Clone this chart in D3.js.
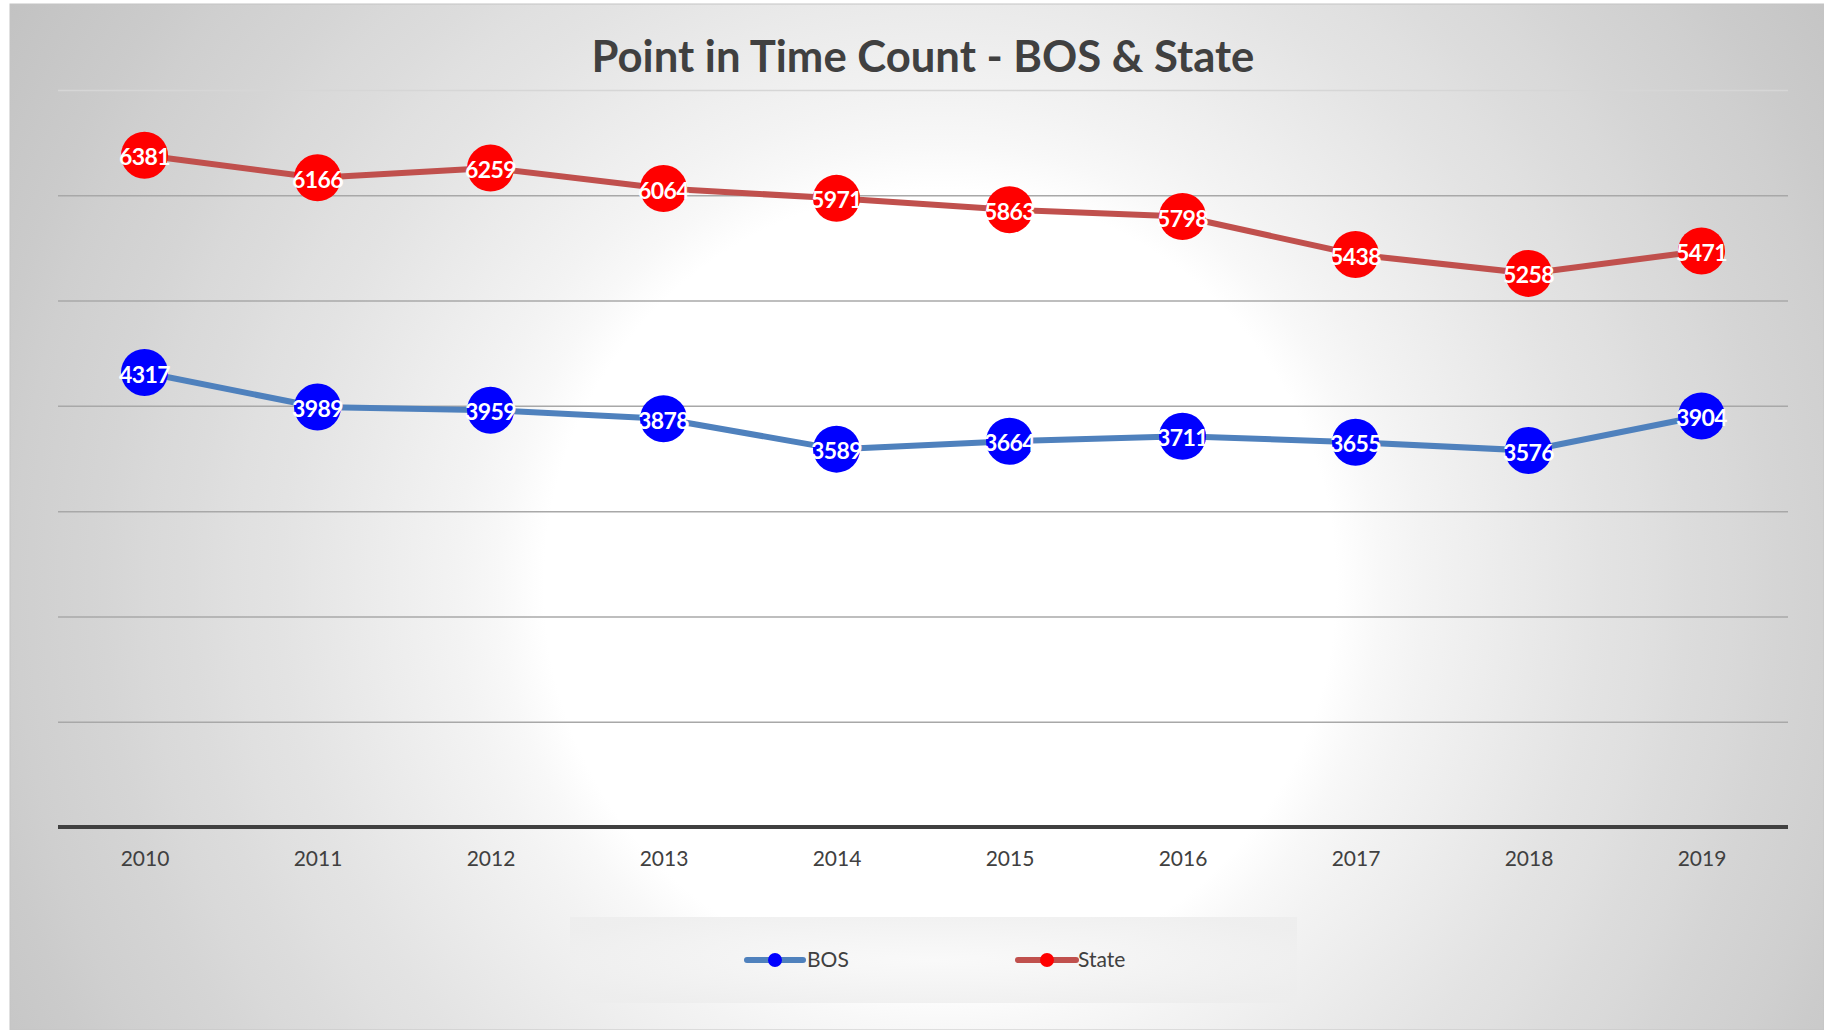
<!DOCTYPE html>
<html>
<head>
<meta charset="utf-8">
<script src="https://cdn.jsdelivr.net/npm/d3@7"></script>
<style>
  html, body { margin: 0; padding: 0; background: #ffffff; }
  svg { display: block; }
</style>
</head>
<body>
<svg id="chart" width="1824" height="1030"></svg>
<script>
// ---- data ----
const years = ["2010","2011","2012","2013","2014","2015","2016","2017","2018","2019"];
const bosValues = [4317, 3989, 3959, 3878, 3589, 3664, 3711, 3655, 3576, 3904];
const stateValues = [6381, 6166, 6259, 6064, 5971, 5863, 5798, 5438, 5258, 5471];
const yTicks = [1000, 2000, 3000, 4000, 5000, 6000, 7000];
const seriesNames = ["BOS", "State"];
const titleText = "Point in Time Count - BOS & State";

// ---- layout ----
const W = 1824, H = 1030;
const plot = { left: 58, right: 1788, top: 90, bottom: 827 };
const font = "Lato, 'Open Sans', sans-serif";

const svg = d3.select("#chart");
const defs = svg.append("defs");

// soft radial background (white centre fading to grey)
const bg = defs.append("radialGradient")
  .attr("id", "bgGrad").attr("gradientUnits", "userSpaceOnUse")
  .attr("cx", 940).attr("cy", 585).attr("r", 1100);
bg.append("stop").attr("offset", 0).attr("stop-color", "#ffffff");
for (let k = 0; k <= 16; k++) {
  const t = 0.36 + 0.64 * k / 16;
  const u = (t - 0.36) / 0.64;
  const v = Math.round(255 - 61 * Math.pow(u, 0.8));
  bg.append("stop").attr("offset", t).attr("stop-color", d3.rgb(v, v, v).formatHex());
}

const lg = defs.append("radialGradient")
  .attr("id", "legGrad").attr("cx", 0.5).attr("cy", 0.5).attr("r", 0.6);
lg.append("stop").attr("offset", "0%").attr("stop-color", "#f8f8f8");
lg.append("stop").attr("offset", "100%").attr("stop-color", "#ededed");

// background
svg.append("rect").attr("x", 10).attr("y", 4).attr("width", W - 10).attr("height", H - 4)
  .attr("fill", "url(#bgGrad)").attr("stroke", "#c4c4c4").attr("stroke-width", 1);

// legend box fill
svg.append("rect").attr("x", 570).attr("y", 917).attr("width", 727).attr("height", 86)
  .attr("fill", "url(#legGrad)").attr("opacity", 0.85);

// scales
const x = d3.scalePoint().domain(years).range([plot.left, plot.right]).padding(0.5);
const y = d3.scaleLinear().domain([0, 7000]).range([plot.bottom, plot.top]);

// gridlines
const grid = svg.append("g").attr("transform", `translate(${plot.left},0)`)
  .call(d3.axisLeft(y).tickValues(yTicks).tickSize(-(plot.right - plot.left)).tickFormat(""));
grid.select(".domain").remove();
grid.selectAll(".tick line")
  .attr("stroke", d => d === 7000 ? "#d6d6d6" : "#a8a8a8")
  .attr("stroke-width", 1.5);

// x axis
const xa = svg.append("g").attr("transform", `translate(0,${plot.bottom})`)
  .call(d3.axisBottom(x).tickSize(0).tickPadding(24));
xa.select(".domain").remove();
xa.selectAll(".tick text")
  .attr("font-family", font).attr("font-size", 21).attr("fill", "#404040");
svg.append("line")
  .attr("x1", plot.left).attr("x2", plot.right)
  .attr("y1", plot.bottom).attr("y2", plot.bottom)
  .attr("stroke", "#404040").attr("stroke-width", 4);

// series
const series = [
  { name: seriesNames[0], values: bosValues, line: "#4F81BD", marker: "#0000FF" },
  { name: seriesNames[1], values: stateValues, line: "#C0504D", marker: "#FF0000" }
];

const lineGen = d3.line().x((d, i) => x(years[i])).y(d => y(d));

series.forEach(s => {
  svg.append("path").datum(s.values)
    .attr("d", lineGen).attr("fill", "none")
    .attr("stroke", s.line).attr("stroke-width", 6)
    .attr("stroke-linejoin", "round").attr("stroke-linecap", "round");
});

series.forEach(s => {
  const g = svg.append("g");
  g.selectAll("circle").data(s.values).join("circle")
    .attr("cx", (d, i) => x(years[i])).attr("cy", d => y(d))
    .attr("r", 23.5).attr("fill", s.marker);
  g.selectAll("text").data(s.values).join("text")
    .attr("x", (d, i) => x(years[i])).attr("y", d => y(d) + 2)
    .attr("dy", "0.35em").attr("text-anchor", "middle")
    .attr("font-family", font).attr("font-weight", "bold").attr("font-size", 23)
    .attr("letter-spacing", -0.6)
    .attr("fill", "#ffffff").text(d => d);
});

// title
const title = svg.append("text")
  .attr("x", (plot.left + plot.right) / 2).attr("y", 72)
  .attr("text-anchor", "middle").attr("font-family", font).attr("font-weight", "bold")
  .attr("font-size", 40).attr("fill", "#404040").text(titleText);
const tw = title.node().getComputedTextLength();
title.attr("font-size", 40 * 663 / tw);

// legend
const legendItems = [
  { s: series[0], x1: 747, x2: 803, tx: 807 },
  { s: series[1], x1: 1018, x2: 1076, tx: 1078 }
];
legendItems.forEach(l => {
  svg.append("line").attr("x1", l.x1).attr("x2", l.x2).attr("y1", 960).attr("y2", 960)
    .attr("stroke", l.s.line).attr("stroke-width", 6).attr("stroke-linecap", "round");
  svg.append("circle").attr("cx", (l.x1 + l.x2) / 2).attr("cy", 960).attr("r", 7)
    .attr("fill", l.s.marker);
  svg.append("text").attr("x", l.tx).attr("y", 960).attr("dy", "0.35em")
    .attr("font-family", font).attr("font-size", 21).attr("fill", "#404040")
    .text(l.s.name);
});
</script>
</body>
</html>
